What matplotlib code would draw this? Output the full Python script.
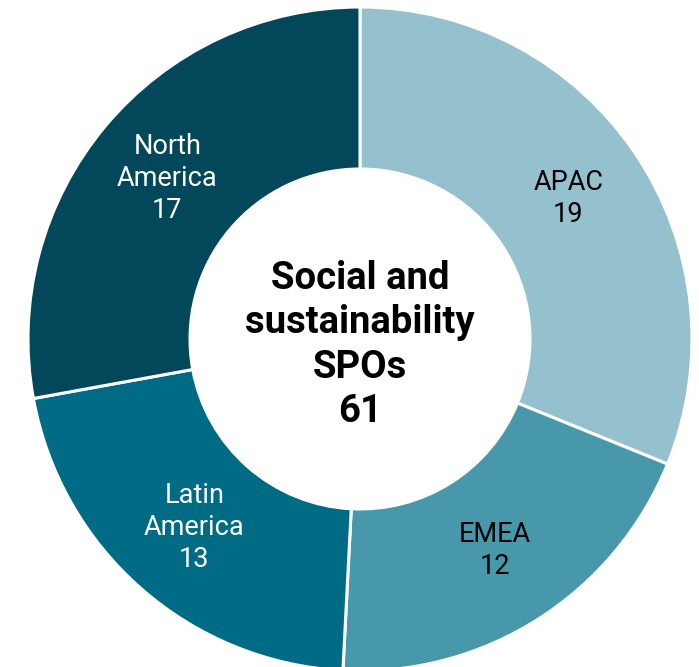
import matplotlib.pyplot as plt

regions = ['APAC', 'EMEA', 'Latin\nAmerica', 'North\nAmerica']
counts = [19, 12, 13, 17]
colors = ['#94c1cd', '#4898ab', '#006b84', '#03475a']
text_colors = ['black', 'black', 'white', 'white']
total = sum(counts)

plt.rcParams['font.family'] = ['Roboto', 'DejaVu Sans']

fig = plt.figure(figsize=(6.99, 6.67), dpi=100)
ax = fig.add_axes([0, 0, 1, 1])

# axis units = pixels, donut centre at (360, 339) from the top-left
outer = 332
inner = 170
wedges, texts = ax.pie(counts, colors=colors, radius=outer, startangle=90,
                       counterclock=False,
                       labels=[f'{r}\n{c}' for r, c in zip(regions, counts)],
                       labeldistance=(outer + inner) / 2 / outer,
                       wedgeprops=dict(width=outer - inner, edgecolor='white', linewidth=2.2),
                       textprops=dict(fontsize=19.5, ha='center', va='center', linespacing=1.23))
for t, c in zip(texts, text_colors):
    t.set_color(c)
    t.set_horizontalalignment('center')

ax.text(0, -6, f'Social and\nsustainability\nSPOs\n{total}', ha='center', va='center',
        fontsize=27.5, fontweight='bold', linespacing=1.25)

ax.set_xlim(-360, 699 - 360)
ax.set_ylim(-(667 - 339), 339)
ax.set_aspect('equal')
ax.axis('off')

plt.savefig('out.png', dpi=100)
